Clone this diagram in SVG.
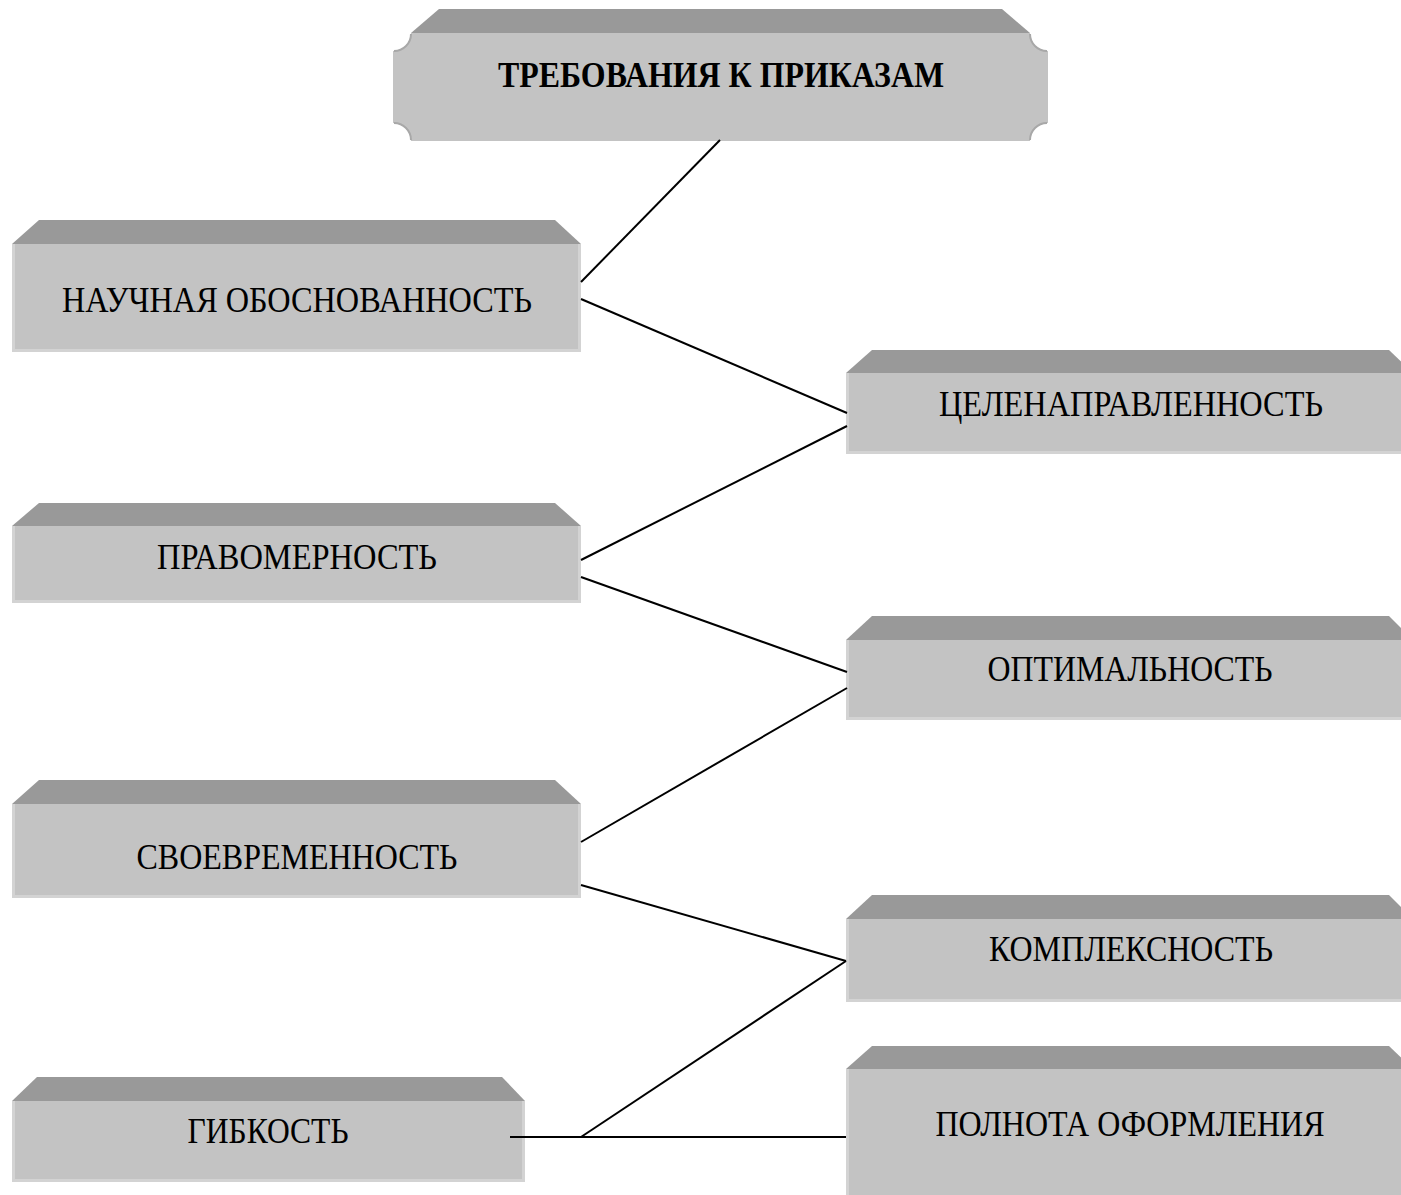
<svg xmlns="http://www.w3.org/2000/svg" width="1401" height="1195" viewBox="0 0 1401 1195">
<style>
.top{fill:#999999}
.front{fill:#c3c3c3}
.edge{fill:none;stroke:#d3d3d3;stroke-width:3}
.lbl{font-family:"Liberation Serif","Times New Roman",serif;font-size:35px;fill:#000;text-anchor:middle}
.ttl{font-weight:bold}
.conn{stroke:#000;stroke-width:2;fill:none}
</style>
<rect width="1401" height="1195" fill="#ffffff"/>
<g id="node-title">
<polygon class="top" points="439,9 1002,9 1030,33 411,33"/>
<path class="front" d="M411,33 H1030 A18,18 0 0 0 1048,51 V123 A18,18 0 0 0 1030,141 H411 A18,18 0 0 0 393,123 V51 A18,18 0 0 0 411,33 Z"/>
<path fill="none" stroke="#a8a8a8" stroke-width="2" d="M411,34 A17,17 0 0 1 394,51 M394,123 A17,17 0 0 1 411,140 M1030,34 A17,17 0 0 0 1047,51 M1047,123 A17,17 0 0 0 1030,140"/>
<text class="lbl ttl" x="721" y="87" textLength="446" lengthAdjust="spacingAndGlyphs">ТРЕБОВАНИЯ К ПРИКАЗАМ</text>
</g>
<g id="node-nauchnaya">
<polygon class="top" points="39,220 555,220 581,244 12,244"/>
<rect class="front" x="12" y="244" width="569" height="108"/>
<polyline class="edge" points="13.5,244 13.5,350.5 579.5,350.5 579.5,244"/>
<text class="lbl" x="297" y="312" textLength="470" lengthAdjust="spacingAndGlyphs">НАУЧНАЯ ОБОСНОВАННОСТЬ</text>
</g>
<g id="node-celenapr">
<polygon class="top" points="872,350 1389,350 1413,373 846,373"/>
<rect class="front" x="846" y="373" width="560" height="81"/>
<polyline class="edge" points="847.5,373 847.5,452.5 1401,452.5"/>
<text class="lbl" x="1131" y="416" textLength="384" lengthAdjust="spacingAndGlyphs">ЦЕЛЕНАПРАВЛЕННОСТЬ</text>
</g>
<g id="node-pravomernost">
<polygon class="top" points="39,503 555,503 581,526 12,526"/>
<rect class="front" x="12" y="526" width="569" height="77"/>
<polyline class="edge" points="13.5,526 13.5,601.5 579.5,601.5 579.5,526"/>
<text class="lbl" x="297" y="569" textLength="280" lengthAdjust="spacingAndGlyphs">ПРАВОМЕРНОСТЬ</text>
</g>
<g id="node-optimalnost">
<polygon class="top" points="872,616 1389,616 1413,640 846,640"/>
<rect class="front" x="846" y="640" width="560" height="80"/>
<polyline class="edge" points="847.5,640 847.5,718.5 1401,718.5"/>
<text class="lbl" x="1130" y="681" textLength="285" lengthAdjust="spacingAndGlyphs">ОПТИМАЛЬНОСТЬ</text>
</g>
<g id="node-svoevremennost">
<polygon class="top" points="39,780 555,780 581,804 12,804"/>
<rect class="front" x="12" y="804" width="569" height="94"/>
<polyline class="edge" points="13.5,804 13.5,896.5 579.5,896.5 579.5,804"/>
<text class="lbl" x="297" y="869" textLength="321" lengthAdjust="spacingAndGlyphs">СВОЕВРЕМЕННОСТЬ</text>
</g>
<g id="node-kompleksnost">
<polygon class="top" points="872,895 1389,895 1413,919 846,919"/>
<rect class="front" x="846" y="919" width="560" height="83"/>
<polyline class="edge" points="847.5,919 847.5,1000.5 1401,1000.5"/>
<text class="lbl" x="1131" y="961" textLength="284" lengthAdjust="spacingAndGlyphs">КОМПЛЕКСНОСТЬ</text>
</g>
<g id="node-gibkost">
<polygon class="top" points="37,1077 502,1077 525,1101 12,1101"/>
<rect class="front" x="12" y="1101" width="513" height="81"/>
<polyline class="edge" points="13.5,1101 13.5,1180.5 523.5,1180.5 523.5,1101"/>
<text class="lbl" x="268" y="1143" textLength="161" lengthAdjust="spacingAndGlyphs">ГИБКОСТЬ</text>
</g>
<g id="node-polnota">
<polygon class="top" points="872,1046 1389,1046 1413,1069 846,1069"/>
<rect class="front" x="846" y="1069" width="560" height="130"/>
<polyline class="edge" points="847.5,1069 847.5,1195"/>
<text class="lbl" x="1130" y="1136" textLength="389" lengthAdjust="spacingAndGlyphs">ПОЛНОТА ОФОРМЛЕНИЯ</text>
</g>
<g id="connectors">
<line class="conn" x1="720" y1="140" x2="581" y2="282"/>
<line class="conn" x1="581" y1="299" x2="847" y2="413"/>
<line class="conn" x1="847" y1="426" x2="581" y2="560"/>
<line class="conn" x1="581" y1="577" x2="847" y2="672"/>
<line class="conn" x1="847" y1="688" x2="581" y2="842"/>
<line class="conn" x1="581" y1="885" x2="846" y2="961"/>
<line class="conn" x1="846" y1="961" x2="581" y2="1137"/>
<line class="conn" x1="510" y1="1137" x2="846" y2="1137"/>
</g>
</svg>
